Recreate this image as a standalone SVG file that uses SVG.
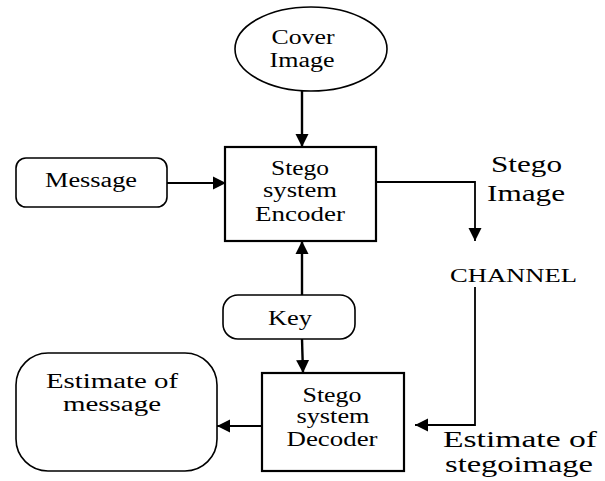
<svg xmlns="http://www.w3.org/2000/svg" width="605" height="481" viewBox="0 0 605 481">
<style>
.t{font-family:"Liberation Serif","Times New Roman",serif;font-size:20px;fill:#000;}
.c{text-anchor:middle;}
.big{font-size:24px;}
.box{fill:#fff;stroke:#000;stroke-width:2.2;}
.rnd{fill:#fff;stroke:#000;stroke-width:1.6;}
.ln{fill:none;stroke:#000;stroke-width:1.8;}
.thick{stroke-width:2.4;}
</style>
<defs>
<marker id="ah" markerUnits="userSpaceOnUse" markerWidth="14" markerHeight="14" viewBox="0 0 14 14" refX="13" refY="7" orient="auto">
<path d="M0,0.5 L13,7 L0,13.5 Z" fill="#000"/>
</marker>
</defs>
<rect width="605" height="481" fill="#fff"/>
<g id="connectors">
<line class="ln thick" x1="302" y1="91" x2="302" y2="147" marker-end="url(#ah)"/>
<line class="ln" x1="167" y1="183" x2="226" y2="183" marker-end="url(#ah)"/>
<polyline class="ln" points="376,182 475,182 475,241" marker-end="url(#ah)"/>
<polyline class="ln" points="475,287 475,425 415,425" marker-end="url(#ah)"/>
<line class="ln thick" x1="302" y1="295" x2="302" y2="241" marker-end="url(#ah)"/>
<line class="ln thick" x1="302" y1="339" x2="303" y2="373" marker-end="url(#ah)"/>
<line class="ln" x1="262" y1="426" x2="217" y2="426" marker-end="url(#ah)"/>
</g>
<g id="cover">
<ellipse class="rnd" cx="311" cy="49" rx="76" ry="42"/>
<text class="t c" x="303" y="44" textLength="63" lengthAdjust="spacingAndGlyphs">Cover</text>
<text class="t c" x="302" y="67" textLength="65" lengthAdjust="spacingAndGlyphs">Image</text>
</g>
<g id="message">
<rect class="rnd" x="16" y="158" width="151" height="49" rx="10"/>
<text class="t c" x="91" y="187" textLength="92" lengthAdjust="spacingAndGlyphs">Message</text>
</g>
<g id="encoder">
<rect class="box" x="225" y="147" width="151" height="94"/>
<text class="t c" x="300" y="175" textLength="58" lengthAdjust="spacingAndGlyphs">Stego</text>
<text class="t c" x="300" y="197" textLength="74" lengthAdjust="spacingAndGlyphs">system</text>
<text class="t c" x="300" y="221" textLength="90" lengthAdjust="spacingAndGlyphs">Encoder</text>
</g>
<g id="stego-image">
<text class="t" style="font-size:23px" x="491" y="172" textLength="71" lengthAdjust="spacingAndGlyphs">Stego</text>
<text class="t" style="font-size:23px" x="487" y="201" textLength="78" lengthAdjust="spacingAndGlyphs">Image</text>
</g>
<g id="channel">
<text class="t" style="font-size:19px" x="450" y="282" textLength="127" lengthAdjust="spacingAndGlyphs">CHANNEL</text>
</g>
<g id="key">
<rect class="rnd" x="223" y="295" width="132" height="44" rx="15"/>
<text class="t c" x="290" y="325" textLength="44" lengthAdjust="spacingAndGlyphs">Key</text>
</g>
<g id="decoder">
<rect class="box" x="262" y="373" width="142" height="98"/>
<text class="t c" x="332" y="402" textLength="59" lengthAdjust="spacingAndGlyphs">Stego</text>
<text class="t c" x="333" y="423" textLength="73" lengthAdjust="spacingAndGlyphs">system</text>
<text class="t c" x="332" y="446" textLength="91" lengthAdjust="spacingAndGlyphs">Decoder</text>
</g>
<g id="estimate-message">
<rect class="rnd" x="16" y="353" width="201" height="118" rx="32"/>
<text class="t c" x="112" y="388" textLength="132" lengthAdjust="spacingAndGlyphs">Estimate of</text>
<text class="t c" x="112" y="411" textLength="98" lengthAdjust="spacingAndGlyphs">message</text>
</g>
<g id="estimate-stegoimage">
<text class="t big" x="443" y="447" textLength="154" lengthAdjust="spacingAndGlyphs">Estimate of</text>
<text class="t big" x="445" y="472" textLength="148" lengthAdjust="spacingAndGlyphs">stegoimage</text>
</g>
</svg>
